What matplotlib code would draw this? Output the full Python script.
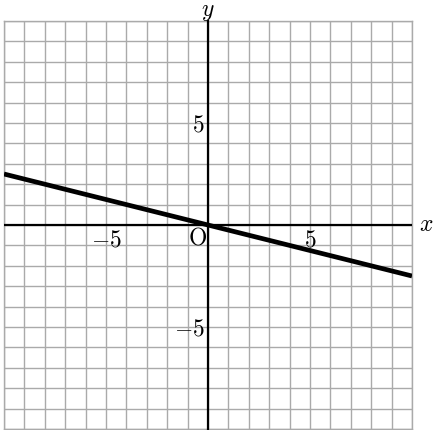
import numpy as np
import matplotlib
matplotlib.use("Agg")
import matplotlib.pyplot as plt

plt.rcParams["mathtext.fontset"] = "cm"

# line y = slope * x over the visible range
X_RANGE = [-10, 10]
SLOPE = -0.25
GRID_TICKS = list(range(-10, 11))
X_LABELS = [(-5, r"$-5$"), (5, r"$5$")]
Y_LABELS = [(5, r"$5$"), (-5, r"$-5$")]

fig = plt.figure(figsize=(4.34, 4.30), dpi=100)
ax = fig.add_axes([4 / 434, 1 / 430, 408 / 434, 408 / 430])
ax.set_xlim(*X_RANGE)
ax.set_ylim(*X_RANGE)
ax.set_xticks(GRID_TICKS)
ax.set_yticks(GRID_TICKS)
ax.tick_params(length=0, labelbottom=False, labelleft=False)
ax.grid(True, color="#aaaaaa", linewidth=1.0)
for sp in ax.spines.values():
    sp.set_color("#aaaaaa")
    sp.set_linewidth(1.0)
ax.set_axisbelow(True)

ax.axhline(0, color="black", linewidth=1.6, zorder=3)
ax.plot([0, 0], [-10.3, 10], color="black", linewidth=1.6, zorder=3, clip_on=False)

xs = np.array(X_RANGE, dtype=float)
ax.plot(xs, SLOPE * xs, color="black", linewidth=3.4, zorder=4,
        solid_capstyle="butt")

fs = 17
for v, s in X_LABELS:
    ax.text(v, -0.72, s, ha="center", va="center", fontsize=fs)
ax.text(-0.5, -0.62, r"$\mathrm{O}$", ha="center", va="center", fontsize=fs)
for v, s in Y_LABELS:
    ax.text(-0.15, v - 0.05, s, ha="right", va="center", fontsize=fs)

ax.text(10.35, 0.05, r"$x$", ha="left", va="center", fontsize=fs, clip_on=False)
ax.text(0, 10.5, r"$y$", ha="center", va="center", fontsize=fs, clip_on=False)

fig.savefig("out.png", dpi=100)
